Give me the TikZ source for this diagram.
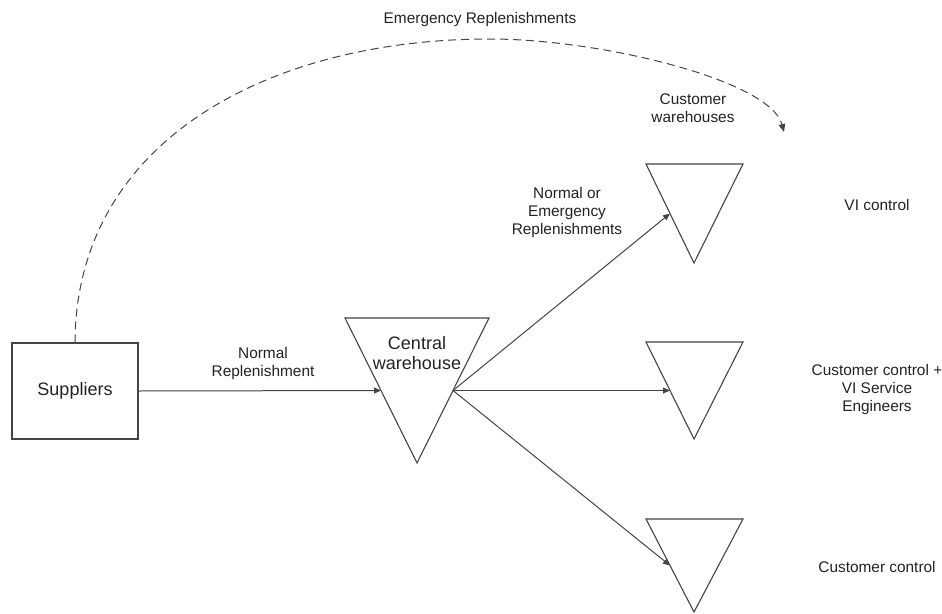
\documentclass[tikz,border=0pt]{standalone}
\usepackage{fontspec}
\setmainfont{Liberation Sans}
\usetikzlibrary{arrows.meta,calc}
\definecolor{ink}{HTML}{222222}
\definecolor{edge}{HTML}{444444}
\tikzset{
  label/.style={text=ink, align=center, inner sep=0pt, font=\fontsize{15.4}{18}\selectfont},
  biglabel/.style={text=ink, align=center, inner sep=0pt, font=\fontsize{18}{20.5}\selectfont},
  box/.style={draw=edge, line width=1.1pt, minimum width=126pt, minimum height=96pt, inner sep=0pt},
  tri/.style={draw=edge, line width=1.1pt, line join=miter},
  flow/.style={draw=edge, line width=1pt, -{Triangle[length=7pt,width=6pt]}},
  emerg/.style={draw=edge, line width=1pt, dash pattern=on 8pt off 5pt, -{Triangle[length=8pt,width=6.5pt]}}
}
\begin{document}
\begin{tikzpicture}[x=1pt,y=-1pt]
\useasboundingbox (0,0) rectangle (942,613);

% Suppliers
\node[box, biglabel] (sup) at (75,391) {Suppliers};

% Central warehouse (inverted triangle)
\coordinate (cwTL) at (345,318);
\coordinate (cwTR) at (489,318);
\coordinate (cwA)  at (417,463);
\draw[tri] (cwTL) -- (cwTR) -- (cwA) -- cycle;
\coordinate (cwIn)  at ($(cwTL)!0.5!(cwA)$);
\coordinate (cwOut) at ($(cwTR)!0.5!(cwA)$);
\node[biglabel] (cwText) at (417,353) {Central\\warehouse};

% Customer warehouses
\foreach \n/\y/\h in {c1/164/99, c2/342/97, c3/519/93} {
  \coordinate (\n TL) at (646,\y);
  \coordinate (\n TR) at (743,\y);
  \coordinate (\n A)  at (694,\y+\h);
  \draw[tri] (\n TL) -- (\n TR) -- (\n A) -- cycle;
  \coordinate (\n In) at ($(\n TL)!0.5!(\n A)$);
}

% Flows
\draw[flow] (sup.east) -- (cwIn);
\draw[flow] (cwOut) -- (c1In);
\draw[flow] (cwOut) -- (c2In);
\draw[flow] (cwOut) -- (c3In);

% Emergency replenishment route
\coordinate (emTop) at (490,39);
\coordinate (emEnd) at (784,132);
\draw[emerg] (sup.north) .. controls (76,140) and (270,39) .. (emTop)
                         .. controls (600,39) and (770,80) .. (emEnd);

% Labels
\node[label] (lEmerg)  at (480,20)  {Emergency Replenishments};
\node[label] (lCust)   at (693,108) {Customer\\warehouses};
\node[label] (lNoE)    at (567,213) {Normal or\\Emergency\\Replenishments};
\node[label] (lNorm)   at (263,364) {Normal\\Replenishment};
\node[label] (lVI)     at (877,205) {VI control};
\node[label] (lMixed)  at (877,390) {Customer control +\\VI Service\\Engineers};
\node[label] (lCustC)  at (877,567) {Customer control};
\end{tikzpicture}
\end{document}
